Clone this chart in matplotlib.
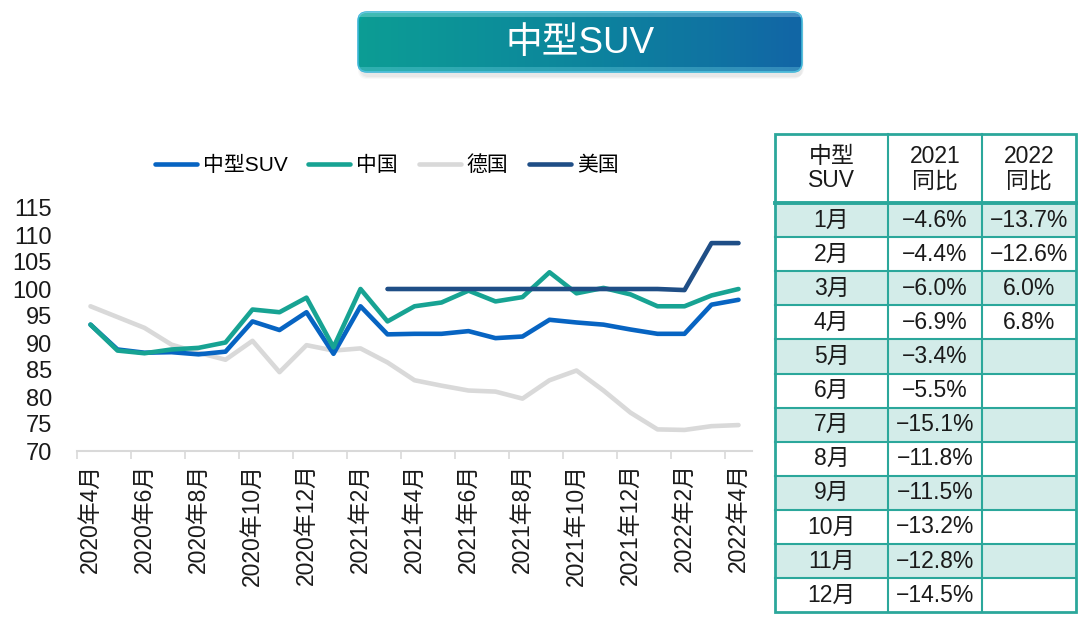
import matplotlib
matplotlib.use("Agg")
import matplotlib.pyplot as plt
import numpy as np
from matplotlib.patches import FancyBboxPatch, Rectangle
from matplotlib.colors import LinearSegmentedColormap
from matplotlib.lines import Line2D

plt.rcParams['font.family'] = ['Liberation Sans', 'Noto Sans CJK SC']

# ---- 数据 ----
tick_labels = ["2020年4月", "2020年6月", "2020年8月", "2020年10月", "2020年12月",
               "2021年2月", "2021年4月", "2021年6月", "2021年8月", "2021年10月",
               "2021年12月", "2022年2月", "2022年4月"]

suv = [93.4, 88.8, 88.2, 88.3, 87.9, 88.4, 94.0, 92.4, 95.7, 88.0, 96.8, 91.6, 91.7,
       91.7, 92.2, 90.9, 91.2, 94.3, 93.8, 93.4, 92.5, 91.7, 91.7, 97.1, 98.0]
china = [93.4, 88.6, 88.1, 88.8, 89.1, 90.1, 96.2, 95.7, 98.4, 89.2, 100.0, 94.0, 96.8,
         97.5, 99.7, 97.7, 98.5, 103.1, 99.2, 100.2, 99.0, 96.8, 96.8, 98.8, 100.0]
germany = [96.8, 94.8, 92.8, 89.7, 88.2, 86.9, 90.4, 84.6, 89.6, 88.6, 89.0, 86.4, 83.1,
           82.1, 81.2, 81.0, 79.7, 83.1, 84.9, 81.2, 77.1, 74.0, 73.9, 74.6, 74.8]
usa = [np.nan, np.nan, np.nan, np.nan, np.nan, np.nan, np.nan, np.nan, np.nan, np.nan, np.nan,
       100.0, 100.0, 100.0, 100.0, 100.0, 100.0, 100.0, 100.0, 100.0, 100.0, 100.0, 99.8,
       108.5, 108.5]

table_months = ["1月", "2月", "3月", "4月", "5月", "6月", "7月", "8月", "9月", "10月", "11月", "12月"]
yoy_2021 = [-4.6, -4.4, -6.0, -6.9, -3.4, -5.5, -15.1, -11.8, -11.5, -13.2, -12.8, -14.5]
yoy_2022 = [-13.7, -12.6, 6.0, 6.8]
table_header = ["中型\nSUV", "2021\n同比", "2022\n同比"]

c_suv = "#0764c2"
c_china = "#17a393"
c_germany = "#d9d9d9"
c_usa = "#1f4e86"
c_border = "#2ba79b"
c_fill = "#d3ece9"

fig = plt.figure(figsize=(10.8, 6.24), dpi=100)

# 背景层(像素坐标,用于标题框和表格)
bg = fig.add_axes([0, 0, 1, 1])
bg.set_xlim(0, 1080)
bg.set_ylim(624, 0)
bg.axis("off")

# 标题框
bx, by, bw, bh = 358, 12, 444, 60
for k, a in enumerate([0.06, 0.05, 0.04]):
    sh = FancyBboxPatch((bx + 2 - k, by + 5 - k), bw, bh + 2 * k,
                        boxstyle="round,pad=0,rounding_size=9",
                        fc="#666666", ec="none", alpha=a)
    bg.add_patch(sh)
box = FancyBboxPatch((bx, by), bw, bh, boxstyle="round,pad=0,rounding_size=9",
                     fc="none", ec="#3fb6d8", lw=1.2)
bg.add_patch(box)
cmap = LinearSegmentedColormap.from_list("title", ["#00a89d", "#008ca8", "#0668b2"])
grad = np.linspace(0, 1, 256).reshape(1, -1)
im = bg.imshow(grad, cmap=cmap, extent=(bx, bx + bw, by + bh, by), aspect="auto")
im.set_clip_path(box)
hl = Rectangle((bx, by), bw, 5, fc="white", ec="none", alpha=0.25)
bg.add_patch(hl)
hl.set_clip_path(box)
hl2 = Rectangle((bx, by + bh - 5), bw, 5, fc="#7fe0f0", ec="none", alpha=0.3)
bg.add_patch(hl2)
hl2.set_clip_path(box)
bg.set_xlim(0, 1080)
bg.set_ylim(624, 0)
bg.text(bx + bw / 2, by + bh / 2 + 1, "中型SUV", color="white", fontsize=26.5,
        ha="center", va="center")

# 表格
col_x = [775, 888, 982, 1076]
top, head_bot, row_h = 134, 203, 34.1
n_rows = len(table_months)
bottom = head_bot + row_h * n_rows
fs_tab = 16.5
for i in range(n_rows):
    y0 = head_bot + i * row_h
    if i % 2 == 0:
        bg.add_patch(Rectangle((col_x[0], y0), col_x[-1] - col_x[0], row_h,
                               fc=c_fill, ec="none"))
    yc = y0 + row_h / 2
    bg.text((col_x[0] + col_x[1]) / 2, yc, table_months[i], fontsize=fs_tab,
            ha="center", va="center", color="#1a1a1a")
    v = yoy_2021[i]
    bg.text((col_x[1] + col_x[2]) / 2, yc,
            ("\u2212" if v < 0 else "") + f"{abs(v):.1f}%", fontsize=fs_tab,
            ha="center", va="center", color="#1a1a1a")
    if i < len(yoy_2022):
        v = yoy_2022[i]
        bg.text((col_x[2] + col_x[3]) / 2, yc,
                ("\u2212" if v < 0 else "") + f"{abs(v):.1f}%", fontsize=fs_tab,
                ha="center", va="center", color="#1a1a1a")
for j, h in enumerate(table_header):
    bg.text((col_x[j] + col_x[j + 1]) / 2, (top + head_bot) / 2, h, fontsize=fs_tab,
            ha="center", va="center", linespacing=1.1, color="#1a1a1a")
for i in range(1, n_rows):
    y0 = head_bot + i * row_h
    bg.plot([col_x[0], col_x[-1]], [y0, y0], color=c_border, lw=1.5)
for xv in col_x[1:-1]:
    bg.plot([xv, xv], [top, bottom], color=c_border, lw=1.5)
bg.plot([col_x[0], col_x[-1]], [head_bot, head_bot], color=c_border, lw=2.8)
bg.add_patch(Rectangle((col_x[0], top), col_x[-1] - col_x[0], bottom - top,
                       fc="none", ec=c_border, lw=2))

# 折线图
ax = fig.add_axes([77 / 1080, 173 / 624, 675 / 1080, 243 / 624])
x = np.arange(len(suv))
ax.plot(x, germany, color=c_germany, lw=3.3, solid_capstyle="round", zorder=2)
ax.plot(x, suv, color=c_suv, lw=3.3, solid_capstyle="round", zorder=3)
ax.plot(x, china, color=c_china, lw=3.3, solid_capstyle="round", zorder=4)
ax.plot(x, usa, color=c_usa, lw=3.3, solid_capstyle="round", zorder=5)

ax.set_xlim(-0.5, len(suv) - 0.5)
ax.set_ylim(70, 115)
ax.set_yticks(np.arange(70, 116, 5))
ax.tick_params(axis="y", length=0, pad=18, labelsize=17, labelcolor="#1a1a1a")
ax.set_xticks(np.arange(0, len(suv), 2))
ax.set_xticklabels(tick_labels, rotation=90, fontsize=16.5, color="#1a1a1a")
ax.tick_params(axis="x", which="major", length=0, pad=9)
ax.set_xticks(np.arange(-0.5, len(suv) - 1, 2), minor=True)
ax.tick_params(axis="x", which="minor", length=6, width=1.2, color="#d9d9d9")
for s in ["top", "right", "left"]:
    ax.spines[s].set_visible(False)
ax.spines["bottom"].set_color("#d9d9d9")
ax.spines["bottom"].set_linewidth(1.5)
ax.patch.set_alpha(0)

handles = [Line2D([], [], color=c, lw=3.3, solid_capstyle="round")
           for c in [c_suv, c_china, c_germany, c_usa]]
fig.legend(handles, ["中型SUV", "中国", "德国", "美国"], ncol=4, frameon=False,
           loc="center", bbox_to_anchor=(387 / 1080, 1 - 165 / 624), fontsize=15,
           handlelength=2.0, handletextpad=0.3, columnspacing=1.0)

fig.savefig("out.png", dpi=100)
